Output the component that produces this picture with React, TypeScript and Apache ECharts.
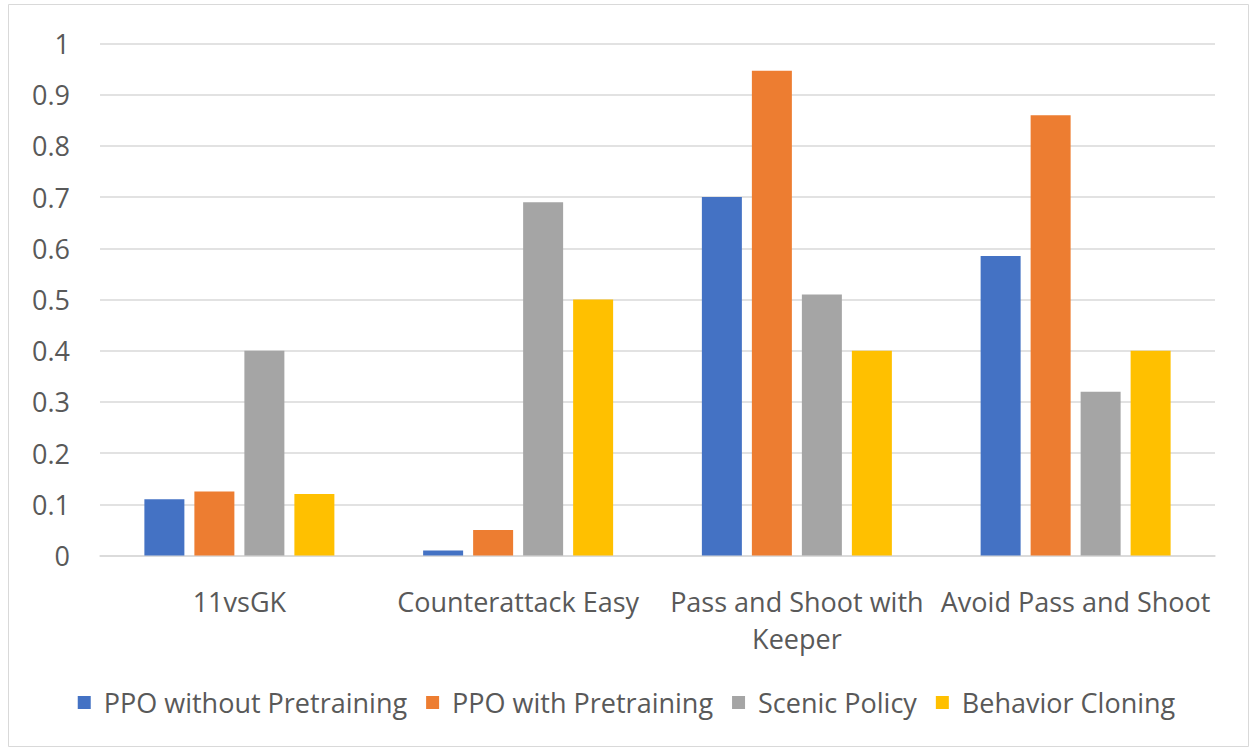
import React, { useEffect, useRef } from "react";
import * as echarts from "echarts";

const categories = [
  "11vsGK",
  "Counterattack Easy",
  "Pass and Shoot with\nKeeper",
  "Avoid Pass and Shoot",
];
const ppoWithoutPretraining = [0.11, 0.01, 0.7, 0.585];
const ppoWithPretraining = [0.125, 0.05, 0.947, 0.86];
const scenicPolicy = [0.4, 0.69, 0.51, 0.32];
const behaviorCloning = [0.12, 0.5, 0.4, 0.4];

const seriesNames = [
  "PPO without Pretraining",
  "PPO with Pretraining",
  "Scenic Policy",
  "Behavior Cloning",
];
const seriesColors = ["#4472C4", "#ED7D31", "#A5A5A5", "#FFC000"];

const FONT = "'Open Sans', 'Noto Sans', sans-serif";
const TEXT = "#595959";

export default function App() {
  const ref = useRef<HTMLDivElement>(null);

  useEffect(() => {
    if (!ref.current) return;
    const chart = echarts.init(ref.current, undefined, { renderer: "svg" });
    const data = [ppoWithoutPretraining, ppoWithPretraining, scenicPolicy, behaviorCloning];
    chart.setOption({
      animation: false,
      backgroundColor: "#ffffff",
      textStyle: { fontFamily: FONT, color: TEXT },
      graphic: [
        {
          type: "rect",
          shape: { x: 8.5, y: 4.5, width: 1240, height: 742 },
          style: { fill: "none", stroke: "#d9d9d9", lineWidth: 1 },
          silent: true,
        },
      ],
      grid: { left: 100, right: 38, top: 43.5, bottom: 193.5, containLabel: false },
      legend: {
        bottom: 28,
        left: "center",
        itemWidth: 13,
        itemHeight: 13,
        itemGap: 19,
        icon: "rect",
        textStyle: { fontFamily: FONT, fontSize: 27, color: TEXT, padding: [0, 0, 0, 8] },
        data: seriesNames,
      },
      xAxis: {
        type: "category",
        data: categories,
        axisTick: { show: false },
        axisLine: { lineStyle: { color: "#d9d9d9", width: 1.5 } },
        axisLabel: {
          fontFamily: FONT,
          fontSize: 27,
          color: TEXT,
          margin: 27,
          lineHeight: 37,
          interval: 0,
        },
      },
      yAxis: {
        type: "value",
        min: 0,
        max: 1,
        interval: 0.1,
        axisLine: { show: false },
        axisTick: { show: false },
        splitLine: { lineStyle: { color: "#d9d9d9", width: 1.5 } },
        axisLabel: { fontFamily: FONT, fontSize: 27, color: TEXT, margin: 30 },
      },
      series: seriesNames.map((name, i) => ({
        name,
        type: "bar",
        data: data[i],
        barWidth: 40,
        barGap: "25%",
        itemStyle: { color: seriesColors[i] },
      })),
    });
    return () => chart.dispose();
  }, []);

  return (
    <div
      ref={ref}
      style={{ position: "absolute", left: 0, top: 0, width: 1253, height: 749 }}
    />
  );
}
